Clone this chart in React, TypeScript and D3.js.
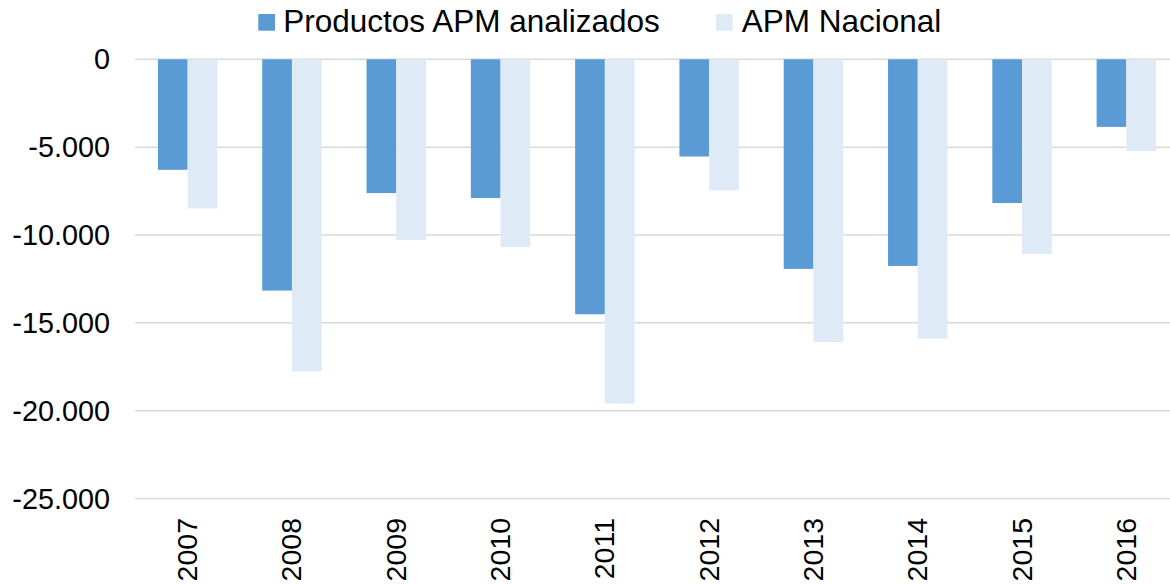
import React from "react";
import * as d3 from "d3";

const categories = ["2007", "2008", "2009", "2010", "2011", "2012", "2013", "2014", "2015", "2016"];
const seriesNames = ["Productos APM analizados", "APM Nacional"];
const productosAPM = [-6290, -13165, -7614, -7898, -14511, -5534, -11932, -11761, -8182, -3847];
const apmNacional = [-8489, -17767, -10284, -10682, -19602, -7466, -16102, -15892, -11080, -5215];
const yTicks = [0, -5000, -10000, -15000, -20000, -25000];
const colors = ["#5B9BD5", "#DEEBF7"];

const W = 1170;
const H = 585;
const FONT = "'Liberation Sans', Arial, sans-serif";

export default function App() {
  const x = d3
    .scaleBand<string>()
    .domain(categories)
    .range([135.5, 1178.5])
    .paddingInner(0.43)
    .paddingOuter(0.215);
  const xs = d3.scaleBand<number>().domain([0, 1]).range([0, x.bandwidth()]);
  const y = d3.scaleLinear().domain([-25000, 0]).range([498.5, 59.3]);
  const fmt = (v: number) => d3.format(",")(v).replace(/,/g, ".").replace("−", "-");
  const series = [productosAPM, apmNacional];

  return (
    <svg
      width={W}
      height={H}
      style={{ position: "absolute", left: 0, top: 0, background: "#fff" }}
      fontFamily={FONT}
    >
      <rect width={W} height={H} fill="#fff" />
      {yTicks.map((t) => (
        <g key={t}>
          <line x1={135} x2={1180} y1={y(t)} y2={y(t)} stroke="#D9D9D9" strokeWidth={1.5} />
          <text x={110} y={y(t)} dy="0.35em" textAnchor="end" fontSize={28.8} fill="#000">
            {fmt(t)}
          </text>
        </g>
      ))}
      {series.map((vals, si) =>
        vals.map((v, i) => {
          const x0 = (x(categories[i]) as number) + (xs(si) as number);
          return (
            <rect
              key={`${si}-${i}`}
              x={x0}
              y={y(0)}
              width={xs.bandwidth()}
              height={y(v) - y(0)}
              fill={colors[si]}
            />
          );
        })
      )}
      {categories.map((c) => {
        const cx = (x(c) as number) + x.bandwidth() / 2;
        return (
          <text
            key={c}
            transform={`translate(${cx + 9.5},518) rotate(-90)`}
            textAnchor="end"
            fontSize={28.5}
            fill="#000"
          >
            {c}
          </text>
        );
      })}
      <g>
        <rect x={258.3} y={14} width={16.7} height={16.7} fill={colors[0]} />
        <text x={283.3} y={32.3} fontSize={31.5} fill="#000">
          {seriesNames[0]}
        </text>
        <rect x={716} y={14} width={16.7} height={16.7} fill={colors[1]} />
        <text x={741.7} y={32.3} fontSize={31.5} fill="#000">
          {seriesNames[1]}
        </text>
      </g>
    </svg>
  );
}
